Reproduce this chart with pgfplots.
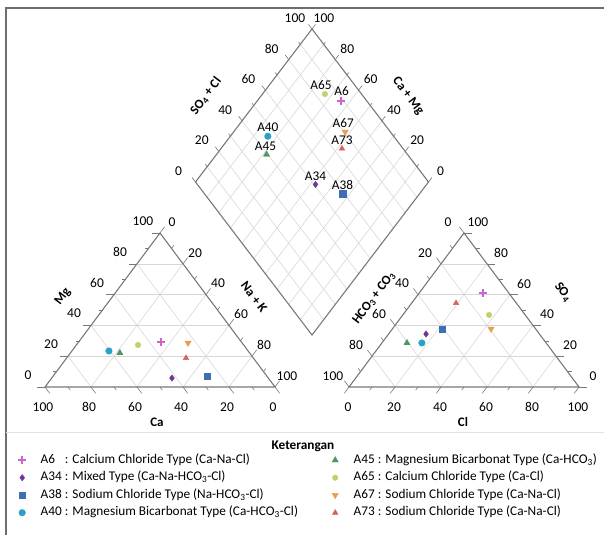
\documentclass[border=0pt]{standalone}
\usepackage{fontspec}
\setmainfont{Carlito}
\usepackage{calc}
\usepackage{pgfplots}
\usepackage{pgfplotstable}
\pgfplotsset{compat=1.18}

\definecolor{cAsix}{RGB}{204,102,204}
\definecolor{cAthirtyfour}{RGB}{112,56,150}
\definecolor{cAthirtyeight}{RGB}{62,110,180}
\definecolor{cAforty}{RGB}{40,160,200}
\definecolor{cAfortyfive}{RGB}{80,150,100}
\definecolor{cAsixtyfive}{RGB}{190,210,110}
\definecolor{cAsixtyseven}{RGB}{230,160,80}
\definecolor{cAseventythree}{RGB}{210,100,90}
\definecolor{edgec}{RGB}{120,120,120}
\definecolor{gridc}{RGB}{215,215,215}
\definecolor{framec}{RGB}{110,110,110}

% sample compositions (percent): Mg, Na+K (cations), SO4, Cl (anions)
\pgfplotstableread{
Mg NaK SO4 Cl
29.2 35.8 61.0 27.8
}\tA
\pgfplotstableread{
Mg NaK SO4 Cl
5.8 52.3 34.4 16.3
}\tB
\pgfplotstableread{
Mg NaK SO4 Cl
7.1 66.9 37.7 21.6
}\tC
\pgfplotstableread{
Mg NaK SO4 Cl
23.4 16.1 28.6 17.4
}\tD
\pgfplotstableread{
Mg NaK SO4 Cl
22.1 21.5 28.6 10.9
}\tE
\pgfplotstableread{
Mg NaK SO4 Cl
27.3 26.8 46.8 37.5
}\tF
\pgfplotstableread{
Mg NaK SO4 Cl
28.6 47.9 37.7 42.9
}\tG
\pgfplotstableread{
Mg NaK SO4 Cl
18.8 51.9 54.5 19.3
}\tH

\newcommand\tickfont{\fontsize{13.5}{15}\selectfont}
\newcommand\titlefont{\bfseries\fontsize{13}{15}\selectfont}
\newcommand\legfont{\fontsize{13.3}{15}\selectfont}
\newcommand\idbox[1]{\makebox[\widthof{A34}][l]{#1}}

\newcommand\piper[4]{%
\addplot[only marks,#2] table[x expr={45+1.15*\thisrow{Mg}+2.3*\thisrow{NaK}}, y expr={387-1.54*\thisrow{Mg}}]{#1};
\addplot[only marks,#2,forget plot] table[x expr={349+1.15*\thisrow{SO4}+2.3*\thisrow{Cl}}, y expr={387-1.54*\thisrow{SO4}}]{#1};
\addplot[only marks,#2,forget plot,nodes near coords={#3},
  every node near coord/.style={font=\legfont,text=black,anchor=south,inner sep=0pt,yshift=4pt,xshift=#4}]
  table[x expr={312+1.165*(\thisrow{SO4}+\thisrow{Cl})-1.165*(100-\thisrow{NaK})},
        y expr={335-1.53*(\thisrow{SO4}+\thisrow{Cl})-1.53*(100-\thisrow{NaK})}]{#1};
}

\begin{document}
\begin{tikzpicture}
\begin{axis}[x=1pt,y=1pt,y dir=reverse,
  xmin=0,xmax=604,ymin=0,ymax=535,
  hide axis, clip=false,
  legend columns=2, legend cell align=left,
  legend image code/.code={\path[draw=none,fill=none] (0pt,-4pt) rectangle (27pt,4pt); \draw[#1] plot coordinates {(10pt,0pt)};},
  legend style={at={(axis cs:12,452.5)}, anchor=north west, draw=none, fill=none,
    font=\legfont, inner sep=0pt, row sep=2.5pt, column sep=0pt,
    nodes={inner sep=1.5pt, text height=9pt, text depth=3pt}},
]
% frame
\draw[framec, line width=1.3pt] (6,535) -- (6,8) -- (604,8);
\draw[gridc!70, line width=1pt] (6,432) -- (604,432);

% ---------- grids ----------
\pgfplotsinvokeforeach{20,40,60,80}{
  \draw[gridc, line width=0.6pt] ({45+1.15*#1},{387-1.54*#1}) -- ({275-1.15*#1},{387-1.54*#1});
  \draw[gridc, line width=0.6pt] ({45+2.3*#1},387) -- ({160+1.15*#1},{233+1.54*#1});
  \draw[gridc, line width=0.6pt] ({275-2.3*#1},387) -- ({160-1.15*#1},{233+1.54*#1});
  \draw[gridc, line width=0.6pt] ({349+1.15*#1},{387-1.54*#1}) -- ({579-1.15*#1},{387-1.54*#1});
  \draw[gridc, line width=0.6pt] ({349+2.3*#1},387) -- ({464+1.15*#1},{233+1.54*#1});
  \draw[gridc, line width=0.6pt] ({464-1.15*#1},{233+1.54*#1}) -- ({579-2.3*#1},387);
}
\pgfplotsinvokeforeach{10,20,30,40,50,60,70,80,90}{
  \draw[gridc, line width=0.6pt] ({312+1.165*#1},{335-1.53*#1}) -- ({195.5+1.165*#1},{182-1.53*#1});
  \draw[gridc, line width=0.6pt] ({312-1.165*#1},{335-1.53*#1}) -- ({428.5-1.165*#1},{182-1.53*#1});
}
% ---------- ticks ----------
\pgfplotsinvokeforeach{0,20,40,60,80,100}{
  \draw[edgec, line width=0.6pt] ({45+1.15*#1},{387-1.54*#1}) -- ++(-8,0);
  \draw[edgec, line width=0.6pt] ({160+1.15*#1},{233+1.54*#1}) -- ++(4.6,-6.2);
  \draw[edgec, line width=0.6pt] ({275-2.3*#1},387) -- ++(4.6,6.2);
  \draw[edgec, line width=0.6pt] ({579-1.15*#1},{387-1.54*#1}) -- ++(8,0);
  \draw[edgec, line width=0.6pt] ({349+2.3*#1},387) -- ++(-4.6,6.2);
  \draw[edgec, line width=0.6pt] ({464-1.15*#1},{233+1.54*#1}) -- ++(-4.6,-6.2);
  \draw[edgec, line width=0.6pt] ({195.5+1.165*#1},{182-1.53*#1}) -- ++(-3.5,-4.6);
  \draw[edgec, line width=0.6pt] ({428.5-1.165*#1},{182-1.53*#1}) -- ++(3.5,-4.6);
}
\pgfplotsinvokeforeach{10,30,50,70,90}{
  \draw[edgec, line width=0.6pt] ({45+1.15*#1},{387-1.54*#1}) -- ++(-4,0);
  \draw[edgec, line width=0.6pt] ({160+1.15*#1},{233+1.54*#1}) -- ++(2.3,-3.1);
  \draw[edgec, line width=0.6pt] ({275-2.3*#1},387) -- ++(2.3,3.1);
  \draw[edgec, line width=0.6pt] ({579-1.15*#1},{387-1.54*#1}) -- ++(4,0);
  \draw[edgec, line width=0.6pt] ({349+2.3*#1},387) -- ++(-2.3,3.1);
  \draw[edgec, line width=0.6pt] ({464-1.15*#1},{233+1.54*#1}) -- ++(-2.3,-3.1);
  \draw[edgec, line width=0.6pt] ({195.5+1.165*#1},{182-1.53*#1}) -- ++(-1.8,-2.3);
  \draw[edgec, line width=0.6pt] ({428.5-1.165*#1},{182-1.53*#1}) -- ++(1.8,-2.3);
}
% ---------- outlines ----------
\draw[edgec, line width=1.1pt] (45,387) -- (160,233) -- (275,387) -- cycle;
\draw[edgec, line width=1.1pt] (349,387) -- (464,233) -- (579,387) -- cycle;
\draw[edgec, line width=1.1pt] (312,335) -- (428.5,182) -- (312,29) -- (195.5,182) -- cycle;

% ---------- tick labels ----------
\pgfplotsinvokeforeach{0,20,40,60,80,100}{
  \node[font=\tickfont] at ({45+1.15*#1-17},{387-1.54*#1-12}) {#1};
  \node[font=\tickfont] at ({160+1.15*#1+12},{233+1.54*#1-11}) {#1};
  \node[font=\tickfont] at ({275-2.3*#1-2},407) {#1};
  \node[font=\tickfont] at ({349+2.3*#1-1},407) {#1};
  \node[font=\tickfont] at ({464-1.15*#1-16},{233+1.54*#1-11}) {#1};
  \node[font=\tickfont] at ({579-1.15*#1+14},{387-1.54*#1-11}) {#1};
  \node[font=\tickfont] at ({195.5+1.165*#1-17},{182-1.53*#1-11}) {#1};
  \node[font=\tickfont] at ({428.5-1.165*#1+12},{182-1.53*#1-11}) {#1};
}
% ---------- axis titles ----------
\node[font=\titlefont, rotate=53] at (63,297) {Mg};
\node[font=\titlefont, rotate=-53] at (254,297) {Na + K};
\node[font=\titlefont] at (157,422) {Ca};
\node[font=\titlefont, rotate=53] at (374,298) {HCO\textsubscript{3} + CO\textsubscript{3}};
\node[font=\titlefont, rotate=-53] at (563,292) {SO\textsubscript{4}};
\node[font=\titlefont] at (463,422) {Cl};
\node[font=\titlefont, rotate=53] at (206,96) {SO\textsubscript{4} + Cl};
\node[font=\titlefont, rotate=-53] at (408,96) {Ca + Mg};
\node[font=\bfseries\legfont] at (303,446) {Keterangan};

% ---------- samples (legend filled row by row) ----------
\piper{\tA}{mark=+, mark size=4pt, cAsix, mark options={line width=1.8pt}}{A6}{1pt}
\addlegendentry{\makebox[283pt][l]{\idbox{A6} : Calcium Chloride Type (Ca-Na-Cl)}}
\piper{\tE}{mark=triangle*, mark size=3.6pt, cAfortyfive}{A45}{-1pt}
\addlegendentry{A45 : Magnesium Bicarbonat Type (Ca-HCO\textsubscript{3})}
\piper{\tB}{mark=diamond*, mark size=3.2pt, cAthirtyfour}{A34}{0pt}
\addlegendentry{\makebox[283pt][l]{A34 : Mixed Type (Ca-Na-HCO\textsubscript{3}-Cl)}}
\piper{\tF}{mark=*, mark size=2.8pt, cAsixtyfive}{A65}{-4pt}
\addlegendentry{A65 : Calcium Chloride Type (Ca-Cl)}
\piper{\tC}{mark=square*, mark size=3.2pt, cAthirtyeight}{A38}{0pt}
\addlegendentry{\makebox[283pt][l]{A38 : Sodium Chloride Type (Na-HCO\textsubscript{3}-Cl)}}
\piper{\tG}{mark=triangle*, mark size=3.6pt, cAsixtyseven, mark options={rotate=180}}{A67}{-2pt}
\addlegendentry{A67 : Sodium Chloride Type (Ca-Na-Cl)}
\piper{\tD}{mark=*, mark size=3.3pt, cAforty}{A40}{0pt}
\addlegendentry{\makebox[283pt][l]{A40 : Magnesium Bicarbonat Type (Ca-HCO\textsubscript{3}-Cl)}}
\piper{\tH}{mark=triangle*, mark size=3.2pt, cAseventythree}{A73}{0pt}
\addlegendentry{A73 : Sodium Chloride Type (Ca-Na-Cl)}
\end{axis}
\pgfresetboundingbox
\useasboundingbox (current axis.south west) rectangle (current axis.north east);
\end{tikzpicture}
\end{document}
